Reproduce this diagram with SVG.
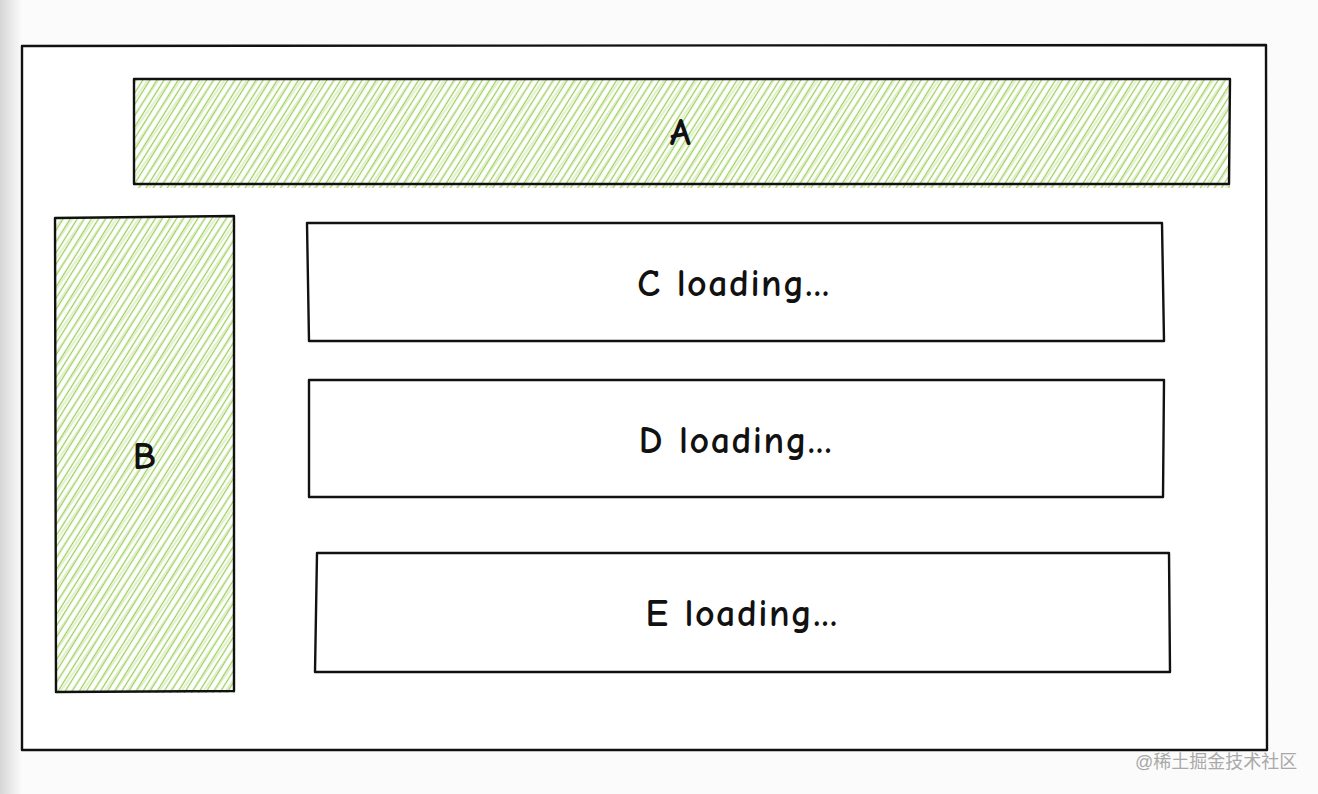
<svg xmlns="http://www.w3.org/2000/svg" width="1318" height="794" viewBox="0 0 1318 794">
<defs>
<linearGradient id="edge" x1="0" y1="0" x2="1" y2="0">
<stop offset="0" stop-color="#d6d6d6"/>
<stop offset="1" stop-color="#fbfbfb"/>
</linearGradient>
<pattern id="hatch" width="6" height="10" patternUnits="userSpaceOnUse" patternTransform="rotate(32)">
<line x1="1.5" y1="0" x2="1.5" y2="10" stroke="#9bcf58" stroke-width="1.3"/>
</pattern>
<pattern id="hatch2" width="9" height="10" patternUnits="userSpaceOnUse" patternTransform="rotate(35) translate(4 0)">
<line x1="1" y1="0" x2="1" y2="10" stroke="#bfe094" stroke-width="0.9"/>
</pattern>
<style>
.box{fill:none;stroke:#111;stroke-width:2.4;stroke-linejoin:round}
.fill{stroke:none}
.lbl{font-family:"Comic Neue","Liberation Sans","Noto Sans",sans-serif;font-size:38px;font-weight:bold;fill:#111;text-anchor:middle;letter-spacing:1.5px}
.wm{font-family:"Liberation Sans","Noto Sans CJK SC",sans-serif;font-size:18px;fill:#a9a9a9}
</style>
</defs>
<rect width="1318" height="794" fill="#fbfbfb"/>
<rect width="22" height="794" fill="url(#edge)"/>
<rect x="22" y="46" width="1244" height="704" fill="#ffffff"/>
<g id="frame">
<path class="box" d="M22 46 L1266 45 L1267 750 L22 750 Z"/>
</g>
<g id="A">
<rect class="fill" x="134" y="79" width="1096" height="109" fill="url(#hatch)"/>
<rect class="fill" x="134" y="79" width="1096" height="109" fill="url(#hatch2)"/>
<path class="box" d="M134 79 L1230 79 L1229 184 L134 184 Z"/>
<text class="lbl" x="681" y="145">A</text>
</g>
<g id="B">
<rect class="fill" x="55" y="217" width="180" height="476" fill="url(#hatch)"/>
<rect class="fill" x="55" y="217" width="180" height="476" fill="url(#hatch2)"/>
<path class="box" d="M55 218 L234 216 L234 691 L56 692 Z"/>
<text class="lbl" x="145" y="469">B</text>
</g>
<g id="C">
<path class="box" d="M307 223 L1162 223 L1164 341 L309 341 Z"/>
<text class="lbl" x="734" y="296">C loading...</text>
</g>
<g id="D">
<path class="box" d="M309 380 L1164 380 L1163 497 L309 497 Z"/>
<text class="lbl" x="736" y="453">D loading...</text>
</g>
<g id="E">
<path class="box" d="M317 553 L1169 553 L1170 672 L315 672 Z"/>
<text class="lbl" x="742" y="626">E loading...</text>
</g>
<g id="connectors"></g>
<text class="wm" x="1135" y="768">@稀土掘金技术社区</text>
</svg>
